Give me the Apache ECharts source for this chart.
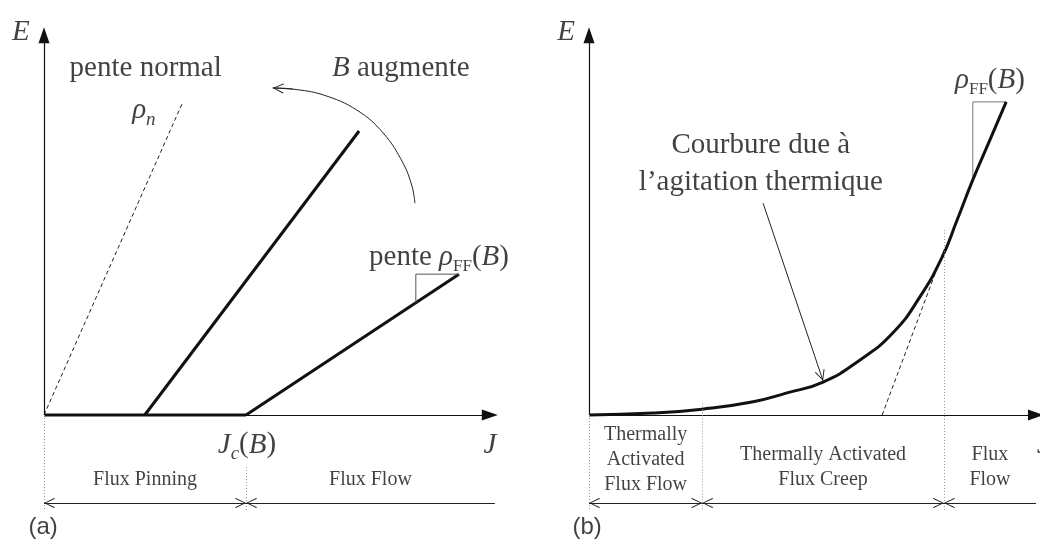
<!DOCTYPE html>
<html>
<head>
<meta charset="utf-8">
<script src="https://cdn.jsdelivr.net/npm/echarts@6/dist/echarts.min.js"></script>
<style>
  html, body { margin: 0; padding: 0; background: #fff; }
  #chart { width: 1040px; height: 545px; }
</style>
</head>
<body>
<div id="chart"></div>
<script>
// (a) E(J) droites a deux champs B, (b) courbe E(J) avec activation thermique
// unites: J en abscisse 0..10, E en ordonnee 0..10 (schema sans graduation)

// ---- panneau (a) ----
const aNormal = [[0, 0], [3.06, 8.07]];            // pente normal rho_n
const aPinned = [[0, 0], [4.45, 0]];               // E = 0 tant que J < Jc
const aHighB  = [[2.22, 0], [6.94, 7.32]];
const aLowB   = [[4.45, 0], [9.14, 3.63]];
const aSlope  = [[8.19, 2.89], [8.19, 3.63], [9.14, 3.63]];
const aArc    = [[8.17, 5.46], [8.11, 5.88], [7.91, 6.49], [7.47, 7.27],
                 [6.89, 7.86], [6.15, 8.25], [5.48, 8.40], [5.04, 8.43]];
const aRegions     = [0, 4.45, 9.93];
const aRegionNames = ['Flux Pinning', 'Flux Flow'];
const aRegionY     = [-1.68, -1.68];
const aTickTop     = [0, -1.34];

// ---- panneau (b) ----
const bCurve = [[0, 0], [1.42, 0.05], [2.51, 0.15], [3.64, 0.34], [4.39, 0.57],
                [5.19, 0.85], [6.01, 1.42], [6.74, 2.12], [7.34, 3.05], [7.83, 4.07],
                [8.16, 5.02], [8.51, 6.06], [8.89, 7.09], [9.25, 8.07]];
const bTangent = [[6.50, 0], [7.87, 4.25]];
const bSlope   = [[8.51, 6.06], [8.51, 8.07], [9.25, 8.07]];
const bPointer = [[3.86, 5.46], [5.19, 0.88]];
const bRegions     = [0, 2.51, 7.87, 9.91];
const bRegionNames = ['Thermally\nActivated\nFlux Flow', 'Thermally Activated\nFlux Creep', 'Flux\nFlow'];
const bRegionY     = [-1.16, -1.34, -1.34];
const bTickTop     = [0, 0.3, 4.77];

const DIM_Y = -2.27;     // ligne de cote sous l'axe
const TICK_BOTTOM = -2.45;

// mise en page (pixels)
const ORIGIN_Y = 415, PX_E = 38.8, H = 545;
const A = { left: 0, width: 520, origin: 44, px: 45.4 };
const B = { left: 520, width: 520, origin: 589, px: 45.1 };

const FONT = '"Liberation Serif","Times New Roman",serif';
const INK = '#111';
const TRI = 'triangle';
const CHEV = 'path://M0,0L6,10L5.1,10.8L0,1.9L-5.1,10.8L-6,10ZM-0.01,-10.8L0.01,-10.8L0,-10.79Z';
const SIZE = { triangle: [11, 16] };
SIZE[CHEV] = [10, 22];

const AXIS = { color: INK, width: 1.2, type: 'solid' };
const THIN = { color: '#222', width: 1, type: 'solid' };
const DOT  = { color: '#9a9a9a', width: 1, type: [1, 2] };

function seg(p, q, style, s1, s2) {
  return [
    { coord: p, symbol: s1 || 'none', symbolSize: SIZE[s1] || 1, lineStyle: style },
    { coord: q, symbol: s2 || 'none', symbolSize: SIZE[s2] || 1 }
  ];
}

function frame(xEnd) {
  return [
    seg([0, 0], [xEnd, 0], AXIS, null, TRI),
    seg([0, 0], [0, 9.79], AXIS, null, TRI)
  ];
}

function dims(regions, tickTop) {
  const out = [];
  tickTop.forEach((t, k) => out.push(seg([regions[k], t], [regions[k], TICK_BOTTOM], DOT)));
  for (let k = 0; k < regions.length - 1; k++) {
    const last = k === regions.length - 2;
    out.push(seg([regions[k], DIM_Y], [regions[k + 1], DIM_Y], THIN, CHEV, last ? null : CHEV));
  }
  return out;
}

const RICH = {
  r:  { fontFamily: FONT, fontSize: 29, color: INK },
  i:  { fontFamily: FONT, fontSize: 29, color: INK, fontStyle: 'italic' },
  s:  { fontFamily: FONT, fontSize: 17, color: INK, padding: [18, 0, 0, 0] },
  si: { fontFamily: FONT, fontSize: 19, color: INK, fontStyle: 'italic', padding: [18, 0, 0, 0] },
  m:  { fontFamily: FONT, fontSize: 20, color: INK, lineHeight: 25 },
  p:  { fontFamily: '"Liberation Sans",Arial,sans-serif', fontSize: 24, color: INK }
};

function lab(x, y, fmt) {
  return { value: [x, y], label: { formatter: fmt } };
}
function multi(text) {
  return text.split('\n').map(t => '{m|' + t + '}').join('\n');
}

const aLabels = [
  lab(-0.51, 9.87, '{i|E}'),
  lab(2.24, 8.94, '{r|pente normal}'),
  lab(2.2, 7.84, '{i|ρ}{si|n}'),
  lab(7.86, 8.94, '{i|B}{r| augmente}'),
  lab(8.70, 4.05, '{r|pente }{i|ρ}{s|FF}{r|(}{i|B}{r|)}'),
  lab(4.47, -0.77, '{i|J}{si|c}{r|(}{i|B}{r|)}'),
  lab(9.82, -0.77, '{i|J}'),
  lab(-0.02, -2.89, '{p|(a)}')
].concat(aRegionNames.map((n, k) =>
  lab((aRegions[k] + aRegions[k + 1]) / 2, aRegionY[k], multi(n))));

const bLabels = [
  lab(-0.51, 9.87, '{i|E}'),
  lab(8.89, 8.63, '{i|ρ}{s|FF}{r|(}{i|B}{r|)}'),
  lab(3.81, 6.96, '{r|Courbure due à}'),
  lab(3.81, 6.0, '{r|l’agitation thermique}'),
  lab(10.07, -0.77, '{i|J}'),
  lab(-0.04, -2.89, '{p|(b)}')
].concat(bRegionNames.map((n, k) =>
  lab((bRegions[k] + bRegions[k + 1]) / 2, bRegionY[k], multi(n))));

function line(idx, data, style, extra) {
  return Object.assign({
    type: 'line', xAxisIndex: idx, yAxisIndex: idx, data: data,
    symbol: 'none', silent: true, lineStyle: style, z: 3
  }, extra || {});
}

function marks(list) {
  return {
    silent: true, symbol: ['none', 'none'], animation: false,
    label: { show: false }, emphasis: { disabled: true }, data: list
  };
}

function labels(idx, data) {
  return {
    type: 'scatter', xAxisIndex: idx, yAxisIndex: idx, symbolSize: 0, silent: true,
    clip: false, z: 5, data: data,
    label: { show: true, position: 'inside', rich: RICH, align: 'center', verticalAlign: 'middle' }
  };
}

function xAxisFor(p, idx) {
  return {
    type: 'value', gridIndex: idx, show: false,
    min: -(p.origin - p.left) / p.px,
    max: (p.left + p.width - p.origin) / p.px
  };
}
function yAxisFor(idx) {
  return { type: 'value', gridIndex: idx, show: false, min: -(H - ORIGIN_Y) / PX_E, max: ORIGIN_Y / PX_E };
}

const BOLD = { color: INK, width: 3 };

const option = {
  backgroundColor: '#fff',
  animation: false,
  grid: [
    { left: A.left, top: 0, width: A.width, height: H },
    { left: B.left, top: 0, width: B.width, height: H }
  ],
  xAxis: [xAxisFor(A, 0), xAxisFor(B, 1)],
  yAxis: [yAxisFor(0), yAxisFor(1)],
  series: [
    line(0, aNormal, { color: '#222', width: 1, type: [4, 3] }),
    line(0, aPinned, BOLD, { markLine: marks(frame(9.82).concat(dims(aRegions, aTickTop))) }),
    line(0, aHighB, BOLD),
    line(0, aLowB, BOLD),
    line(0, aSlope, { color: '#555', width: 1 }),
    line(0, aArc, THIN, { smooth: 0.4,
      markLine: marks([seg(aArc[aArc.length - 2], aArc[aArc.length - 1], THIN, null, CHEV)]) }),
    labels(0, aLabels),

    line(1, bTangent, { color: '#222', width: 1, type: [4, 3] }),
    line(1, bSlope, { color: '#777', width: 1 }),
    line(1, bCurve, BOLD, { smooth: 0.5,
      markLine: marks(frame(9.91).concat(dims(bRegions, bTickTop))
        .concat([seg(bPointer[0], bPointer[1], THIN, null, CHEV)])) }),
    labels(1, bLabels)
  ]
};

const chart = echarts.init(document.getElementById('chart'));
chart.setOption(option);
</script>
</body>
</html>
